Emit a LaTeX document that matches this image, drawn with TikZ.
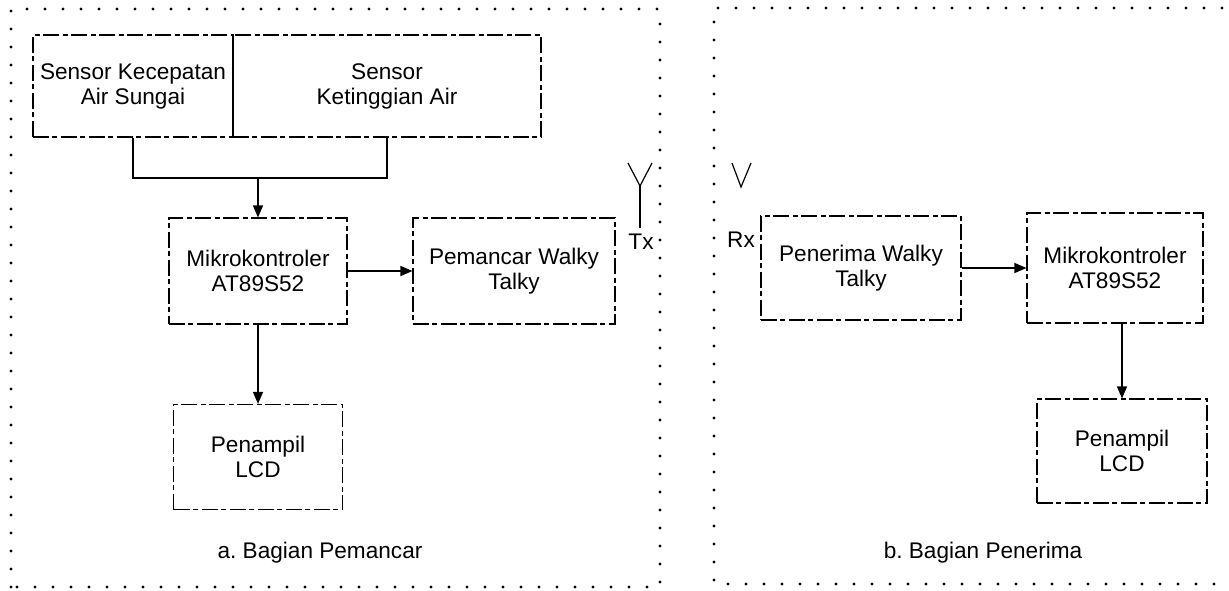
\documentclass[tikz,border=0pt]{standalone}
\usepackage{fontspec}
\setmainfont{Liberation Sans}
\usetikzlibrary{arrows.meta}
\frenchspacing
\tikzset{
  blk/.style={draw, line width=1.1pt, dash pattern=on 16pt off 3pt on 5pt off 4pt,
    inner sep=0pt, align=center, font=\fontsize{22.6}{25}\selectfont},
  lbl/.style={inner sep=0pt, align=center, font=\fontsize{22.6}{25}\selectfont},
  wire/.style={line width=1.2pt},
  arr/.style={line width=1.2pt, -{Triangle[length=12pt,width=10pt]}},
  frame/.style={line width=3.2pt, line cap=round, dash pattern=on 0pt off 18pt},
}
\begin{document}
\begin{tikzpicture}[x=1pt,y=-1pt]
\useasboundingbox (0,0) rectangle (1229,590);
% frames
\draw[frame] (11,587) -- (11,9) -- (660,9) -- (660,587) -- cycle;
\draw[frame] (1240,8) -- (714,8) -- (714,584) -- (1240,584);
% transmitter side
\node[blk, minimum width=200pt, minimum height=102pt] (s1) at (133,86) {Sensor Kecepatan\\Air Sungai};
\node[blk, minimum width=308pt, minimum height=102pt] (s2) at (387,86) {Sensor\\Ketinggian Air};
\node[blk, minimum width=178pt, minimum height=106pt] (m1) at (258,271) {Mikrokontroler\\AT89S52};
\node[blk, minimum width=202pt, minimum height=106pt] (tx) at (514,271) {Pemancar Walky\\Talky};
\node[blk, minimum width=169pt, minimum height=105pt] (l1) at (258,457) {Penampil\\LCD};
\coordinate (b1) at (133,178);
\coordinate (b2) at (387,178);
\coordinate (bm) at (258,178);
\draw[wire] (s1.south) -- (b1) -- (b2) -- (s2.south);
\draw[arr] (bm) -- (m1.north);
\draw[arr] (m1.east) -- (tx.west);
\draw[arr] (m1.south) -- (l1.north);
% Tx antenna
\coordinate (a1) at (640,186);
\coordinate (a1l) at (628,163);
\coordinate (a1r) at (652,163);
\coordinate (a1b) at (640,228);
\draw[wire] (a1l) -- (a1) -- (a1r);
\draw[wire] (a1) -- (a1b);
\node[lbl] (txl) at (641,242) {Tx};
\node[lbl] (capa) at (320,553) {a. Bagian Pemancar};
% receiver side
\coordinate (a2l) at (732,163);
\coordinate (a2) at (741,187);
\coordinate (a2r) at (751,163);
\draw[wire] (a2l) -- (a2) -- (a2r);
\node[lbl] (rxl) at (741,240) {Rx};
\node[blk, minimum width=200pt, minimum height=104pt] (rx) at (861,268) {Penerima Walky\\Talky};
\node[blk, minimum width=176pt, minimum height=110pt] (m2) at (1115,268) {Mikrokontroler\\AT89S52};
\node[blk, minimum width=170pt, minimum height=104pt] (l2) at (1122,451) {Penampil\\LCD};
\draw[arr] (rx.east) -- (m2.west);
\draw[arr] (m2.south -| l2.north) -- (l2.north);
\node[lbl] (capb) at (983,553) {b. Bagian Penerima};
\end{tikzpicture}
\end{document}
